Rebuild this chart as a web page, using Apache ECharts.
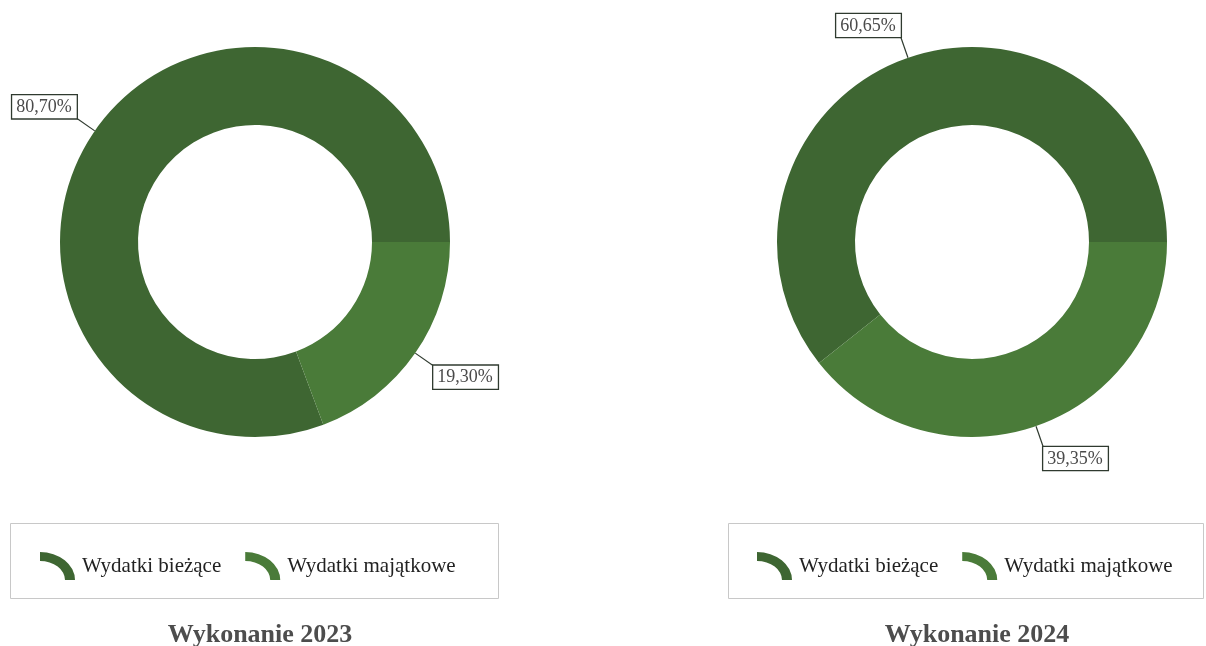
<!DOCTYPE html>
<html>
<head>
<meta charset="utf-8">
<script src="https://cdn.jsdelivr.net/npm/echarts@6/dist/echarts.min.js"></script>
<style>html,body{margin:0;padding:0;background:#fff;}#c{width:1206px;height:646px;}</style>
</head>
<body>
<div id="c"></div>
<script>
const categories = ['Wydatki bieżące', 'Wydatki majątkowe'];
const values2023 = [80.70, 19.30];
const values2024 = [60.65, 39.35];
const chartTitles = ['Wykonanie 2023', 'Wykonanie 2024'];

const colors = ['#3e6632', '#4a7b39'];
const centers = [[255, 242], [972, 242]];
const FONT = '"Liberation Serif", "Times New Roman", serif';
const ringIcon = 'path://M0,0 A35,28 0 0 1 35,28 L25,28 A25,19 0 0 0 0,9 Z';

function fmt(v) { return v.toFixed(2).replace('.', ',') + '%'; }

function makeSeries(vals, idx) {
  return {
    type: 'pie',
    center: centers[idx],
    radius: [117, 195],
    startAngle: 0,
    clockwise: false,
    avoidLabelOverlap: false,
    silent: true,
    data: categories.map((c, i) => ({ name: c, value: vals[i], itemStyle: { color: colors[i] } })),
    label: {
      show: true,
      position: 'outside',
      formatter: p => fmt(p.value),
      fontFamily: FONT,
      fontSize: 18,
      color: '#4a4a4a',
      backgroundColor: '#ffffff',
      borderColor: '#2f3a2f',
      borderWidth: 1.3,
      padding: [3, 5, 2, 4]
    },
    labelLine: {
      show: true,
      length: 22,
      length2: 0,
      lineStyle: { color: '#2f3a2f', width: 1.2 }
    },
    labelLayout: function (params) {
      const pts = params.labelLinePoints;
      if (!pts) return {};
      const end = pts[pts.length - 1];
      const c = centers[params.seriesIndex];
      const left = end[0] < c[0];
      const up = end[1] < c[1];
      return {
        x: end[0],
        y: end[1],
        align: left ? 'right' : 'left',
        verticalAlign: up ? 'bottom' : 'top',
        labelLinePoints: [pts[0], end]
      };
    }
  };
}

function makeLegend(left) {
  return {
    left: left,
    top: 547,
    orient: 'horizontal',
    selectedMode: false,
    itemWidth: 35,
    itemHeight: 28,
    itemGap: 24,
    icon: ringIcon,
    textStyle: { fontFamily: FONT, fontSize: 21, color: '#222222', padding: [0, 0, 0, 2] },
    data: categories
  };
}

const chart = echarts.init(document.getElementById('c'), null, { renderer: 'canvas' });
chart.setOption({
  backgroundColor: '#ffffff',
  animation: false,
  title: chartTitles.map((t, i) => ({
    text: t,
    left: centers[i][0],
    top: 617,
    textAlign: 'center',
    textStyle: { fontFamily: FONT, fontSize: 26, fontWeight: 'bold', color: '#4d4d4d' }
  })),
  legend: [makeLegend(35), makeLegend(752)],
  graphic: [
    { type: 'rect', shape: { x: 10.5, y: 523.5, width: 488, height: 75 }, style: { fill: 'none', stroke: '#c8c8c8', lineWidth: 1 }, silent: true },
    { type: 'rect', shape: { x: 728.5, y: 523.5, width: 475, height: 75 }, style: { fill: 'none', stroke: '#c8c8c8', lineWidth: 1 }, silent: true }
  ],
  series: [makeSeries(values2023, 0), makeSeries(values2024, 1)]
});
</script>
</body>
</html>
